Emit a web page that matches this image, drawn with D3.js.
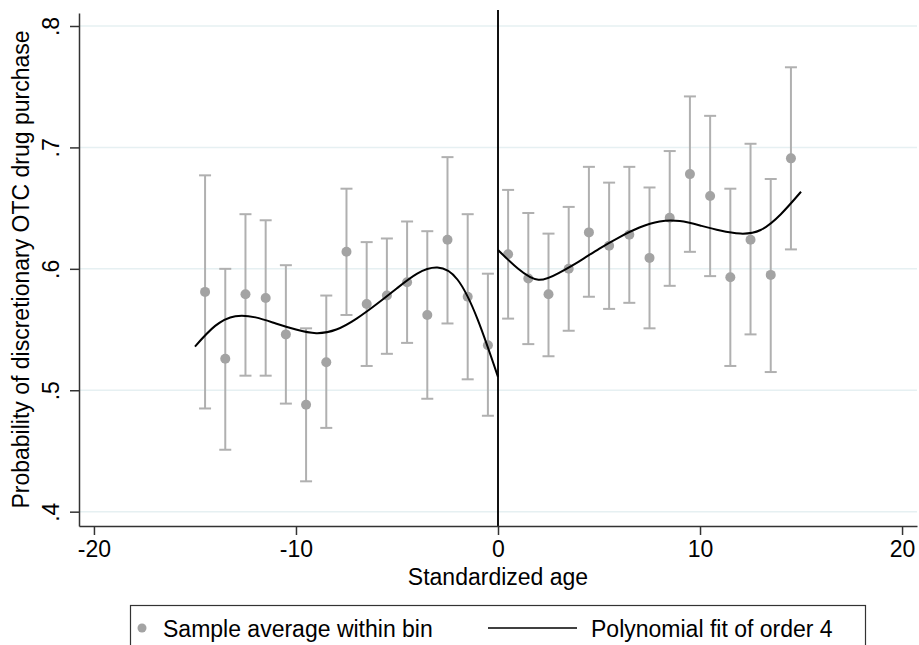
<!DOCTYPE html>
<html>
<head>
<meta charset="utf-8">
<script src="https://cdn.jsdelivr.net/npm/d3@7"></script>
<style>
  body { margin: 0; background: #fff; }
  text { font-family: "Liberation Sans", Arial, sans-serif; fill: #000; }
</style>
</head>
<body>
<script>
// bin centres (standardized age)
const bins = [-14.5, -13.5, -12.5, -11.5, -10.5, -9.5, -8.5, -7.5, -6.5, -5.5, -4.5, -3.5, -2.5, -1.5, -0.5,
              0.5, 1.5, 2.5, 3.5, 4.5, 5.5, 6.5, 7.5, 8.5, 9.5, 10.5, 11.5, 12.5, 13.5, 14.5];
// sample average within bin
const means = [0.581, 0.526, 0.579, 0.576, 0.546, 0.488, 0.523, 0.614, 0.571, 0.578, 0.589, 0.562, 0.624, 0.577, 0.537,
               0.612, 0.592, 0.579, 0.600, 0.630, 0.619, 0.628, 0.609, 0.642, 0.678, 0.660, 0.593, 0.624, 0.595, 0.691];
// confidence interval bounds
const lower = [0.485, 0.451, 0.512, 0.512, 0.489, 0.425, 0.469, 0.562, 0.520, 0.530, 0.539, 0.493, 0.555, 0.509, 0.479,
               0.559, 0.538, 0.528, 0.549, 0.577, 0.567, 0.572, 0.551, 0.586, 0.614, 0.594, 0.520, 0.546, 0.515, 0.616];
const upper = [0.677, 0.600, 0.645, 0.640, 0.603, 0.551, 0.578, 0.666, 0.622, 0.625, 0.639, 0.631, 0.692, 0.645, 0.596,
               0.665, 0.646, 0.629, 0.651, 0.684, 0.671, 0.684, 0.667, 0.697, 0.742, 0.726, 0.666, 0.703, 0.674, 0.766];

// polynomial fit at whole ages
const fitLeftX  = [-15, -14, -13, -12, -11, -10, -9, -8, -7, -6, -5, -4, -3, -2, -1, 0];
const fitLeftY  = [0.536, 0.553, 0.561, 0.560, 0.555, 0.550, 0.547, 0.550, 0.559, 0.571, 0.584, 0.596, 0.601, 0.591, 0.558, 0.511];
const fitRightX = [0, 1, 2, 3, 4, 5, 6, 7, 8, 9, 10, 11, 12, 13, 14, 15];
const fitRightY = [0.6155, 0.600, 0.591, 0.5965, 0.606, 0.6165, 0.626, 0.634, 0.639, 0.6393, 0.6357, 0.6315, 0.629, 0.632, 0.645, 0.6635];

const xTicks = [-20, -10, 0, 10, 20];
const yTicks = [0.4, 0.5, 0.6, 0.7, 0.8];

const w = 919, h = 645;
const plotL = 79, plotR = 917, plotT = 13, plotB = 526;

const svg = d3.select("body").append("svg")
  .attr("width", w)
  .attr("height", h);

const x = d3.scaleLinear().domain([-20.74, 20.74]).range([plotL, plotR]);
const y = d3.scaleLinear().domain([0.3882, 0.8107]).range([plotB, plotT]);

// gridlines
svg.append("g")
  .selectAll("line")
  .data(yTicks)
  .enter().append("line")
  .attr("x1", plotL).attr("x2", plotR)
  .attr("y1", d => y(d)).attr("y2", d => y(d))
  .attr("stroke", "#e6f0f2")
  .attr("stroke-width", 1.5);

// error bars
const barColor = "#b0b0b0";
const pts = bins.map((b, i) => ({ b, m: means[i], lo: lower[i], hi: upper[i] }));
const eb = svg.append("g").attr("stroke", barColor).attr("stroke-width", 2);
eb.selectAll(".stem").data(pts).enter().append("line")
  .attr("x1", d => x(d.b)).attr("x2", d => x(d.b))
  .attr("y1", d => y(d.lo)).attr("y2", d => y(d.hi));
eb.selectAll(".capHi").data(pts).enter().append("line")
  .attr("x1", d => x(d.b) - 6).attr("x2", d => x(d.b) + 6)
  .attr("y1", d => y(d.hi)).attr("y2", d => y(d.hi));
eb.selectAll(".capLo").data(pts).enter().append("line")
  .attr("x1", d => x(d.b) - 6).attr("x2", d => x(d.b) + 6)
  .attr("y1", d => y(d.lo)).attr("y2", d => y(d.lo));

// points
svg.append("g").selectAll("circle").data(pts).enter().append("circle")
  .attr("cx", d => x(d.b))
  .attr("cy", d => y(d.m))
  .attr("r", 5)
  .attr("fill", "#a3a3a3");

// cutoff line
svg.append("line")
  .attr("x1", x(0)).attr("x2", x(0))
  .attr("y1", plotT - 3).attr("y2", plotB)
  .attr("stroke", "#111")
  .attr("stroke-width", 2);

// fit curves
const fitLine = d3.line()
  .x(d => x(d[0]))
  .y(d => y(d[1]))
  .curve(d3.curveNatural);

svg.append("path")
  .attr("d", fitLine(d3.zip(fitLeftX, fitLeftY)))
  .attr("fill", "none").attr("stroke", "#000").attr("stroke-width", 2);
svg.append("path")
  .attr("d", fitLine(d3.zip(fitRightX, fitRightY)))
  .attr("fill", "none").attr("stroke", "#000").attr("stroke-width", 2);

// axes
const xAxis = svg.append("g")
  .attr("transform", "translate(0," + plotB + ")")
  .call(d3.axisBottom(x).tickValues(xTicks).tickFormat(d => String(d)).tickSize(9).tickSizeOuter(0).tickPadding(6));
xAxis.select(".domain").attr("stroke", "#333").attr("stroke-width", 1.5);
xAxis.selectAll(".tick line").attr("stroke", "#333").attr("stroke-width", 1.5);
xAxis.selectAll(".tick text").attr("font-size", 23).attr("font-family", "Liberation Sans, Arial, sans-serif").attr("fill", "#000");

const yAxis = svg.append("g")
  .attr("transform", "translate(" + plotL + ",0)")
  .call(d3.axisLeft(y).tickValues(yTicks).tickFormat(d => String(d).replace(/^0/, "")).tickSize(9).tickSizeOuter(0));
yAxis.select(".domain").attr("stroke", "#333").attr("stroke-width", 1.5);
yAxis.selectAll(".tick line").attr("stroke", "#333").attr("stroke-width", 1.5);
yAxis.selectAll(".tick text")
  .attr("font-size", 23)
  .attr("font-family", "Liberation Sans, Arial, sans-serif")
  .attr("fill", "#000")
  .attr("x", null).attr("dy", null)
  .attr("text-anchor", "middle")
  .attr("transform", "translate(-20,0) rotate(-90)");

// axis titles
svg.append("text")
  .attr("x", x(0))
  .attr("y", 585)
  .attr("text-anchor", "middle")
  .attr("font-size", 23)
  .text("Standardized age");

svg.append("text")
  .attr("transform", "translate(29," + ((plotT + plotB) / 2) + ") rotate(-90)")
  .attr("text-anchor", "middle")
  .attr("font-size", 23)
  .text("Probability of discretionary OTC drug purchase");

// legend
const legend = svg.append("g");
legend.append("rect")
  .attr("x", 130.5).attr("y", 605.5)
  .attr("width", 735).attr("height", 60)
  .attr("fill", "#fff")
  .attr("stroke", "#333")
  .attr("stroke-width", 1.2);
legend.append("circle")
  .attr("cx", 142).attr("cy", 628)
  .attr("r", 4.5)
  .attr("fill", "#a3a3a3");
legend.append("text")
  .attr("x", 163).attr("y", 636.5)
  .attr("font-size", 23)
  .text("Sample average within bin");
legend.append("line")
  .attr("x1", 488).attr("x2", 577)
  .attr("y1", 628).attr("y2", 628)
  .attr("stroke", "#000").attr("stroke-width", 1.5);
legend.append("text")
  .attr("x", 591).attr("y", 636.5)
  .attr("font-size", 23)
  .text("Polynomial fit of order 4");
</script>
</body>
</html>
